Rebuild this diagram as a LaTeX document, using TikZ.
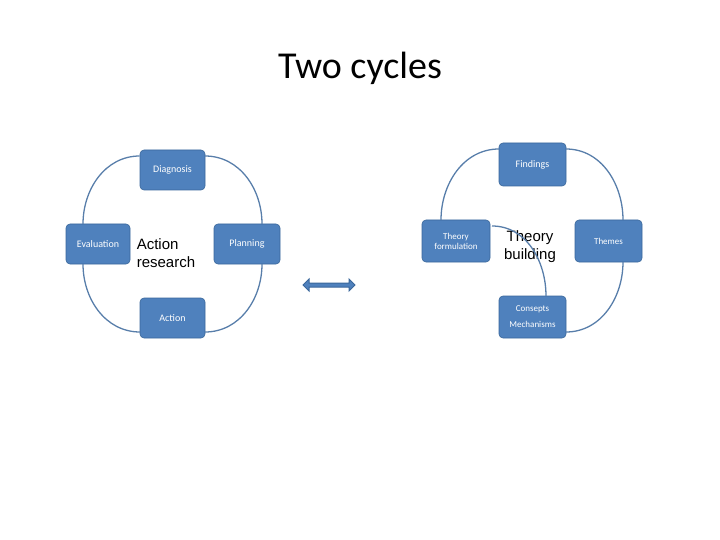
\documentclass[tikz,border=0pt]{standalone}
\usepackage{fontspec}
\setmainfont{Carlito}
\newfontfamily\arialf{Liberation Sans}
\usetikzlibrary{shapes.arrows}
\definecolor{boxblue}{HTML}{4F81BD}
\definecolor{boxline}{HTML}{3A679B}
\begin{document}
\begin{tikzpicture}[x=1pt,y=-1pt,
  box/.style={draw=boxline,fill=boxblue,rounded corners=4pt,text=white,font=\fontsize{10}{12}\selectfont,align=center,inner sep=0pt,line width=0.6pt},
  cyc/.style={draw=boxline!85!white,line width=1.3pt}]
\useasboundingbox (0,0) rectangle (720,540);
\node[font=\fontsize{38}{44}\selectfont] (title) at (360,68) {Two cycles};
% left cycle
\node[box,minimum width=65,minimum height=40] (diag) at (172.5,170) {Diagnosis};
\node[box,minimum width=64,minimum height=40] (eval) at (98,244) {Evaluation};
\node[box,minimum width=66,minimum height=40] (plan) at (247,244) {Planning};
\node[box,minimum width=65,minimum height=40] (act) at (172.5,318) {Action};
\node[font=\arialf\fontsize{15}{18}\selectfont,align=left] (ar) at (166,253) {Action\\research};
\draw[cyc] (diag.west) ++(0,-14) coordinate (d1) (d1) to[out=180,in=90] (83,224);
\draw[cyc] (205,156) to[out=0,in=90] (262,224);
\draw[cyc] (83,264) to[out=-90,in=180] (140,332);
\draw[cyc] (262,264) to[out=-90,in=0] (205,332);
% arrow
\node[double arrow,draw=boxline,fill=boxblue,line width=1pt,minimum width=12,minimum height=52,double arrow head extend=3pt,inner sep=1pt] (arr) at (329,285) {};
% right cycle
\node[box,minimum width=67,minimum height=43] (find) at (532.5,164.5) {Findings};
\node[box,minimum width=68,minimum height=42,font=\fontsize{9}{10}\selectfont] (tf) at (456,241) {Theory\\formulation};
\node[box,minimum width=67,minimum height=42,font=\fontsize{9}{11}\selectfont] (them) at (608.5,241) {Themes};
\node[box,minimum width=67,minimum height=42,font=\fontsize{9}{16}\selectfont] (cons) at (532.5,317) {Consepts\\Mechanisms};
\node[font=\arialf\fontsize{15}{18}\selectfont,align=center] (tb) at (530,247) {Theory\\building};
\draw[cyc] (499,149) to[out=180,in=90] (441,220);
\draw[cyc] (566,149) to[out=0,in=90] (623,220);
\draw[cyc] (623,262) to[out=-90,in=0] (566,332);
\draw[cyc] (492,226) to[out=0,in=90] (546,296);
\end{tikzpicture}
\end{document}
